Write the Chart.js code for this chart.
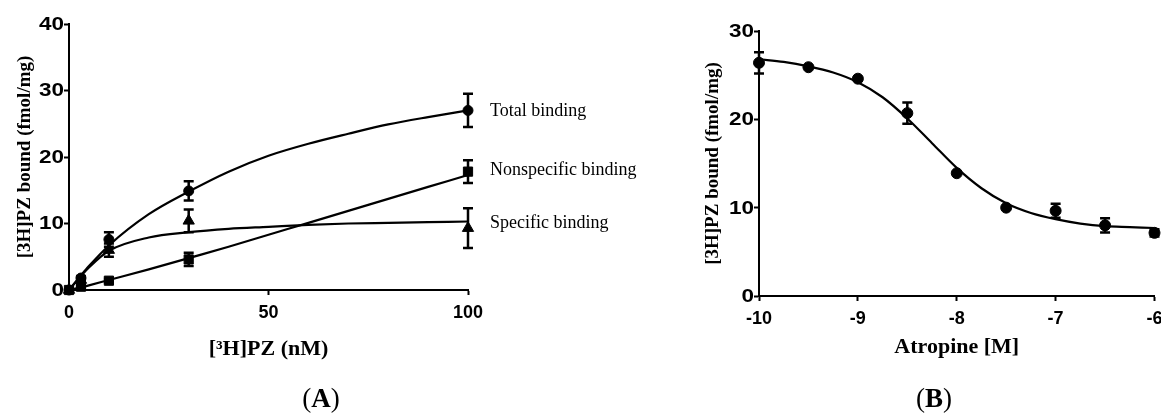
<!DOCTYPE html>
<html>
<head>
<meta charset="utf-8">
<script src="https://cdn.jsdelivr.net/npm/chart.js@4.4.1/dist/chart.umd.min.js"></script>
<style>
  html, body { margin: 0; padding: 0; background: #fff; overflow: hidden; }
  body { width: 1161px; height: 413px; position: relative; }
  .box { position: absolute; top: 0; height: 413px; }
  .lbl { position: absolute; font-family: "Liberation Serif", "Times New Roman", serif; font-size: 18px; line-height: 18px; color: #000; white-space: nowrap; }
  .panel { position: absolute; width: 100px; text-align: center; font-family: "Liberation Serif", "Times New Roman", serif; font-size: 27px; line-height: 30px; color: #000; }
</style>
</head>
<body>
<div class="box" style="left:0;width:600px"><canvas id="chartA"></canvas></div>
<div class="box" style="left:690px;width:471px"><canvas id="chartB"></canvas></div>

<div class="lbl" style="left:490px;top:101px">Total binding</div>
<div class="lbl" style="left:490px;top:160px">Nonspecific binding</div>
<div class="lbl" style="left:490px;top:213px">Specific binding</div>
<div class="panel" style="left:271px;top:383px">(<b>A</b>)</div>
<div class="panel" style="left:884px;top:383px">(<b>B</b>)</div>

<script>
// Panel A: saturation binding
const concA = [0, 3, 10, 30, 100];
const totalMean = [0, 1.8, 7.6, 14.9, 27.0];
const totalErr = [0, 0.3, 1.1, 1.45, 2.5];
const nonspecMean = [0, 0.5, 1.4, 4.6, 17.8];
const nonspecErr = [0, 0.2, 0.3, 1.0, 1.7];
const specMean = [0, 1.5, 6.0, 10.4, 9.3];
const specErr = [0, 0.3, 1.0, 1.7, 3.0];

// fitted curves
const fitXA = [0, 3, 5, 10, 20, 30, 40, 50, 60, 70, 80, 90, 100];
const totalFit = [0, 2.2, 3.6, 6.7, 11.4, 14.8, 17.8, 20.2, 22.0, 23.5, 24.9, 26.0, 27.0];
const nonspecFit = [0, 0.4, 0.7, 1.5, 3.1, 4.8, 6.5, 8.3, 10.1, 11.9, 13.7, 15.5, 17.3];
const specFit = [0, 2.1, 3.4, 5.9, 7.9, 8.7, 9.2, 9.5, 9.8, 10.0, 10.1, 10.2, 10.3];

// Panel B: atropine competition
const logAtropine = [-10, -9.5, -9, -8.5, -8, -7.5, -7, -6.5, -6];
const boundMean = [26.4, 25.9, 24.6, 20.7, 13.9, 10.0, 9.65, 8.0, 7.15];
const boundErr = [1.2, 0, 0, 1.2, 0, 0, 0.8, 0.8, 0.4];

const fitXB = [-10, -9.75, -9.5, -9.25, -9, -8.75, -8.5, -8.25, -8, -7.75, -7.5, -7.25, -7, -6.75, -6.5, -6.25, -6];
const boundFit = [26.8, 26.5, 26.0, 25.3, 24.2, 22.5, 20.1, 17.3, 14.5, 12.2, 10.5, 9.4, 8.7, 8.2, 7.9, 7.8, 7.7];

const TICK_FONT = 'bold 18px "Liberation Sans", Arial, sans-serif';

function pairs(xs, ys) {
    return xs.map((x, i) => ({ x: x, y: ys[i] }));
}

function pointSet(xs, ys, errs, style, radius) {
    return {
        type: 'scatter',
        data: pairs(xs, ys),
        errors: errs,
        showLine: false,
        pointStyle: style,
        pointRadius: radius,
        pointHoverRadius: radius,
        backgroundColor: '#000',
        borderColor: '#000',
        borderWidth: 1,
        clip: false
    };
}

function curveSet(xs, ys) {
    return {
        type: 'line',
        data: pairs(xs, ys),
        borderColor: '#000',
        borderWidth: 2.2,
        pointRadius: 0,
        fill: false,
        cubicInterpolationMode: 'monotone',
        clip: false
    };
}

// error bars with caps
const errorBars = {
    id: 'errorBars',
    afterDatasetsDraw(chart) {
        const ctx = chart.ctx;
        const yScale = chart.scales.y;
        chart.data.datasets.forEach((ds, i) => {
            if (!ds.errors) return;
            const meta = chart.getDatasetMeta(i);
            ctx.save();
            ctx.strokeStyle = '#000';
            ctx.lineWidth = 2.5;
            meta.data.forEach((pt, j) => {
                const e = ds.errors[j];
                if (!e) return;
                const v = ds.data[j].y;
                const top = yScale.getPixelForValue(v + e);
                const bottom = yScale.getPixelForValue(v - e);
                ctx.beginPath();
                ctx.moveTo(pt.x, top);
                ctx.lineTo(pt.x, bottom);
                ctx.moveTo(pt.x - 5, top);
                ctx.lineTo(pt.x + 5, top);
                ctx.moveTo(pt.x - 5, bottom);
                ctx.lineTo(pt.x + 5, bottom);
                ctx.stroke();
            });
            ctx.restore();
        });
    }
};

// y tick labels in the figure are drawn horizontally stretched
const wideYTicks = {
    id: 'wideYTicks',
    afterDraw(chart) {
        const ctx = chart.ctx;
        const y = chart.scales.y;
        ctx.save();
        ctx.font = TICK_FONT;
        ctx.fillStyle = '#000';
        ctx.textAlign = 'right';
        ctx.textBaseline = 'middle';
        y.ticks.forEach(t => {
            ctx.save();
            ctx.translate(y.right - 5, y.getPixelForValue(t.value) + 1);
            ctx.scale(1.25, 1);
            ctx.fillText(String(t.value), 0, 0);
            ctx.restore();
        });
        ctx.restore();
    }
};

function axisGrid() {
    return {
        drawOnChartArea: false,
        drawTicks: true,
        tickLength: 5,
        tickWidth: 2,
        tickColor: '#000'
    };
}

function makeOptions(cfg) {
    return {
        responsive: true,
        maintainAspectRatio: false,
        animation: false,
        layout: { padding: { top: cfg.top, right: cfg.right, left: 0, bottom: 0 } },
        plugins: { legend: { display: false }, tooltip: { enabled: false } },
        scales: {
            x: {
                type: 'linear',
                min: cfg.xMin,
                max: cfg.xMax,
                border: { color: '#000', width: 2 },
                grid: axisGrid(),
                ticks: { stepSize: cfg.xStep, color: '#000', padding: 7, font: { family: '"Liberation Sans", Arial, sans-serif', size: 18, weight: 'bold' }, maxRotation: 0 },
                title: {
                    display: true,
                    text: cfg.xTitle,
                    color: '#000',
                    font: { family: '"Liberation Serif", "Times New Roman", serif', size: 22, weight: 'bold' },
                    padding: { bottom: cfg.xTitlePad }
                },
                afterFit(scale) {
                    scale.height = cfg.xHeight;
                    scale.paddingLeft = 0;
                    scale.paddingRight = 0;
                }
            },
            y: {
                type: 'linear',
                min: 0,
                max: cfg.yMax,
                border: { color: '#000', width: 2 },
                grid: axisGrid(),
                ticks: { stepSize: 10, display: false },
                title: {
                    display: true,
                    text: '[3H]PZ bound (fmol/mg)',
                    color: '#000',
                    font: { family: '"Liberation Serif", "Times New Roman", serif', size: 19, weight: 'bold' },
                    padding: { top: cfg.yTitlePad }
                },
                afterFit(scale) {
                    scale.width = 69;
                    scale.paddingTop = 0;
                    scale.paddingBottom = 0;
                }
            }
        }
    };
}

new Chart(document.getElementById('chartA'), {
    data: {
        datasets: [
            curveSet(fitXA, totalFit),
            curveSet(fitXA, nonspecFit),
            curveSet(fitXA, specFit),
            pointSet(concA, totalMean, totalErr, 'circle', 5),
            pointSet(concA, nonspecMean, nonspecErr, 'rect', 6.5),
            pointSet(concA, specMean, specErr, 'triangle', 6.5)
        ]
    },
    options: makeOptions({
        top: 24, right: 132, xMin: 0, xMax: 100, xStep: 50, yMax: 40,
        xTitle: '[³H]PZ (nM)', xTitlePad: 50, xHeight: 123, yTitlePad: 14
    }),
    plugins: [errorBars, wideYTicks]
});

new Chart(document.getElementById('chartB'), {
    data: {
        datasets: [
            curveSet(fitXB, boundFit),
            pointSet(logAtropine, boundMean, boundErr, 'circle', 5.5)
        ]
    },
    options: makeOptions({
        top: 31, right: 6, xMin: -10, xMax: -6, xStep: 1, yMax: 30,
        xTitle: 'Atropine [M]', xTitlePad: 52, xHeight: 117, yTitlePad: 12
    }),
    plugins: [errorBars, wideYTicks]
});
</script>
</body>
</html>
